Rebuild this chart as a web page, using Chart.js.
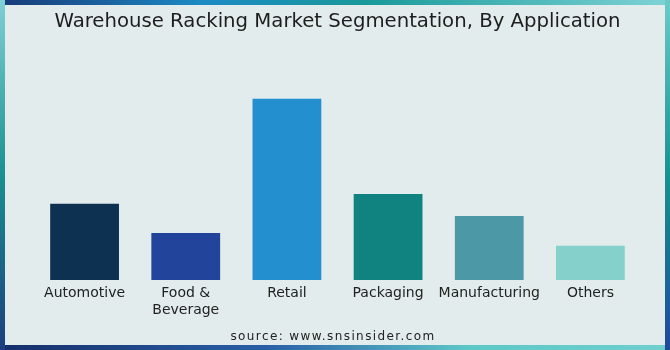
<!DOCTYPE html>
<html>
<head>
<meta charset="utf-8">
<script src="https://cdn.jsdelivr.net/npm/chart.js@4.4.1/dist/chart.umd.min.js"></script>
<style>
  html, body { margin: 0; padding: 0; background: #e3ecec; }
  #wrap { width: 670px; height: 350px; position: relative; }
</style>
</head>
<body>
<div id="wrap"><canvas id="c" width="670" height="350"></canvas></div>
<script>
const categories = ["Automotive", ["Food &", "Beverage"], "Retail", "Packaging", "Manufacturing", "Others"];
const shareValues = [15.6, 9.6, 37.1, 17.6, 13.1, 7.0];
const barColors = ["#0d3150", "#22449a", "#238fce", "#108380", "#4d98a6", "#85d0cb"];
const titleText = "Warehouse Racking Market Segmentation, By Application";
const sourceText = "source: www.snsinsider.com";

const frame = {
  id: 'frame',
  beforeDraw(chart) {
    const ctx = chart.ctx, W = chart.width, H = chart.height;
    ctx.save();
    let g = ctx.createLinearGradient(0, 0, W, 0);
    g.addColorStop(0, '#183a78'); g.addColorStop(0.3, '#1b8ac4'); g.addColorStop(0.55, '#1a9a9a'); g.addColorStop(1, '#7fd3d6');
    ctx.fillStyle = g; ctx.fillRect(0, 0, W, 5);
    g = ctx.createLinearGradient(0, 0, W, 0);
    g.addColorStop(0, '#142e6a'); g.addColorStop(0.4, '#2a60a8'); g.addColorStop(0.7, '#5cc8c8'); g.addColorStop(1, '#6fcfcf');
    ctx.fillStyle = g; ctx.fillRect(0, 345, W, 5);
    g = ctx.createLinearGradient(0, 0, 0, H);
    g.addColorStop(0, '#7fd0d6'); g.addColorStop(0.5, '#1a9090'); g.addColorStop(1, '#1c3e80');
    ctx.fillStyle = g; ctx.fillRect(0, 0, 5, H);
    g = ctx.createLinearGradient(0, 0, 0, H);
    g.addColorStop(0, '#6cc9c9'); g.addColorStop(0.5, '#1a9090'); g.addColorStop(1, '#1e4a9a');
    ctx.fillStyle = g; ctx.fillRect(665, 0, 5, H);
    ctx.fillStyle = '#e3ecec';
    ctx.fillRect(5, 5, 660, 340);
    ctx.restore();
  },
  afterDraw(chart) {
    const ctx = chart.ctx;
    ctx.save();
    ctx.font = '12px "DejaVu Sans"';
    ctx.letterSpacing = '1.4px';
    ctx.fillStyle = '#222';
    ctx.textAlign = 'center';
    ctx.textBaseline = 'middle';
    ctx.fillText(sourceText, 333, 337);
    ctx.restore();
  }
};

new Chart(document.getElementById('c'), {
  type: 'bar',
  data: {
    labels: categories,
    datasets: [{
      data: shareValues,
      backgroundColor: barColors,
      borderWidth: 0,
      categoryPercentage: 0.68,
      barPercentage: 1.0
    }]
  },
  options: {
    responsive: false,
    animation: false,
    events: [],
    layout: { padding: { top: 4, left: 34, right: 29, bottom: 20 } },
    plugins: {
      legend: { display: false },
      tooltip: { enabled: false },
      title: {
        display: true,
        text: titleText,
        color: '#1e1e1e',
        font: { family: 'DejaVu Sans', size: 19.7, weight: 'normal' },
        padding: { top: 6, bottom: 26.4 }
      }
    },
    scales: {
      x: {
        grid: { display: false, drawTicks: false },
        border: { display: false },
        ticks: { color: '#222', font: { family: 'DejaVu Sans', size: 14 }, padding: 5, maxRotation: 0, autoSkip: false },
        afterFit(s) { s.height = 50; }
      },
      y: {
        display: false,
        min: 0,
        max: 45
      }
    }
  },
  plugins: [frame]
});
</script>
</body>
</html>
